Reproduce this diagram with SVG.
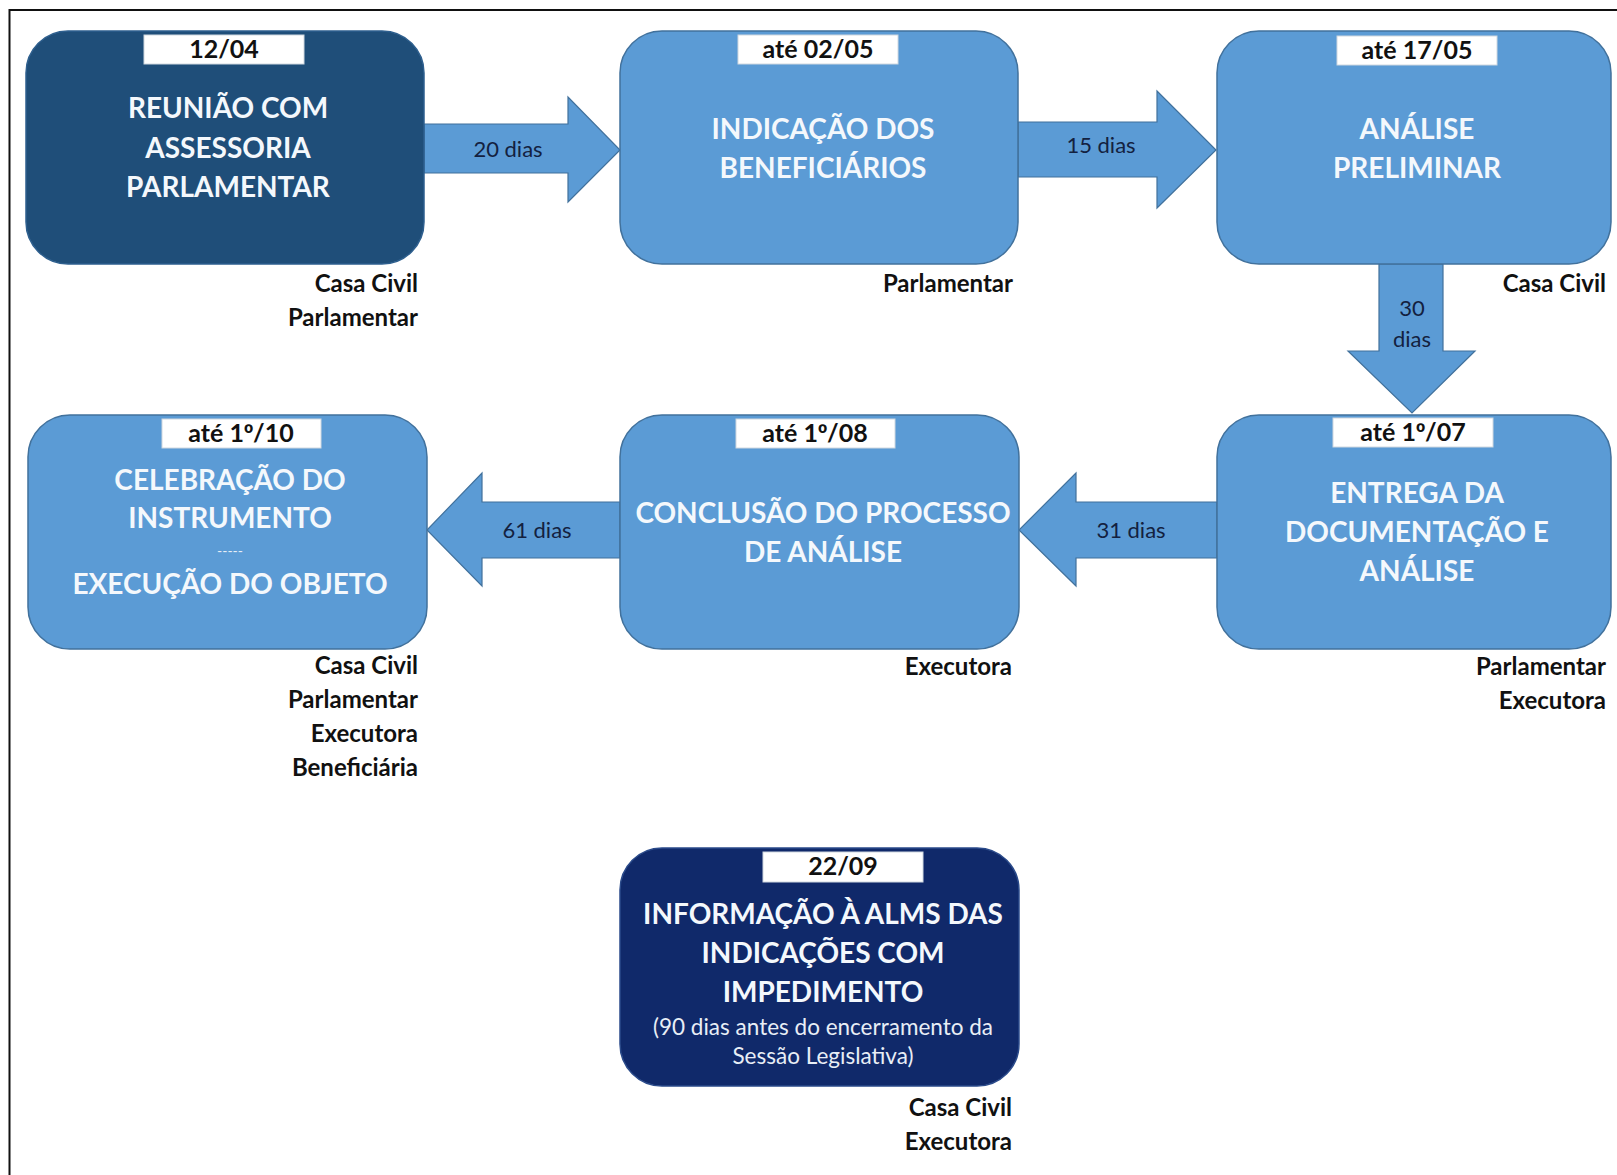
<svg xmlns="http://www.w3.org/2000/svg" width="1617" height="1175" viewBox="0 0 1617 1175">
<style>
.node{fill:#5b9bd5;stroke:#41719c;stroke-width:1.5}
.dark{fill:#1f4e79;stroke:#2e5f8e;stroke-width:1.5}
.navy{fill:#10296a;stroke:#2a4a8a;stroke-width:1.5}
.date{fill:#ffffff;stroke:#d0d8e0;stroke-width:1}
.arrow{fill:#5b9bd5;stroke:#41719c;stroke-width:1.2}
.title{font-family:Lato,"Liberation Sans",sans-serif;font-weight:bold;font-size:28px;fill:#f4f8fc;text-anchor:middle}
.sub{font-family:Lato,"Liberation Sans",sans-serif;font-size:22.5px;fill:#e8eef6;text-anchor:middle}
.dtxt{font-family:Lato,"Liberation Sans",sans-serif;font-weight:bold;font-size:25px;fill:#111;text-anchor:middle}
.ord{font-family:"Liberation Sans",sans-serif}
.resp{font-family:Lato,"Liberation Sans",sans-serif;font-weight:bold;font-size:24px;fill:#111;text-anchor:end}
.alab{font-family:Lato,"Liberation Sans",sans-serif;font-size:22px;fill:#13213f;text-anchor:middle}
</style>
<rect x="0" y="0" width="1617" height="1175" fill="#ffffff"/>
<rect x="9.5" y="10" width="1640" height="1200" fill="none" stroke="#111" stroke-width="2"/>

<g id="connectors">
  <path class="arrow" d="M424,124 H568 V97 L620,150 L568,202 V173 H424 Z"/>
  <text class="alab" x="508" y="157">20 dias</text>
  <path class="arrow" d="M1018,122 H1157 V91 L1216,150 L1157,208 V177 H1018 Z"/>
  <text class="alab" x="1101" y="153">15 dias</text>
  <path class="arrow" d="M1379,264 H1443 V351 H1475 L1412,413 L1348,351 H1379 Z"/>
  <text class="alab" x="1412" y="316">30</text>
  <text class="alab" x="1412" y="347">dias</text>
  <path class="arrow" d="M1217,502 H1076 V473 L1019,530 L1076,586 V558 H1217 Z"/>
  <text class="alab" x="1131" y="538">31 dias</text>
  <path class="arrow" d="M620,502 H482 V473 L427,530 L482,586 V558 H620 Z"/>
  <text class="alab" x="537" y="538">61 dias</text>
</g>

<g id="node-reuniao">
  <rect class="dark" x="26" y="31" width="398" height="233" rx="42"/>
  <rect class="date" x="144" y="35" width="160" height="29"/>
  <text class="dtxt" x="224" y="58">12/04</text>
  <text class="title" x="228" y="118">REUNIÃO COM</text>
  <text class="title" x="228" y="158">ASSESSORIA</text>
  <text class="title" x="228" y="197">PARLAMENTAR</text>
  <text class="resp" x="418" y="292">Casa Civil</text>
  <text class="resp" x="418" y="326">Parlamentar</text>
</g>

<g id="node-indicacao">
  <rect class="node" x="620" y="31" width="398" height="233" rx="42"/>
  <rect class="date" x="738" y="35" width="160" height="29"/>
  <text class="dtxt" x="818" y="58">até 02/05</text>
  <text class="title" x="823" y="139">INDICAÇÃO DOS</text>
  <text class="title" x="823" y="178">BENEFICIÁRIOS</text>
  <text class="resp" x="1013" y="292">Parlamentar</text>
</g>

<g id="node-analise-preliminar">
  <rect class="node" x="1217" y="31" width="394" height="233" rx="42"/>
  <rect class="date" x="1337" y="36" width="160" height="29"/>
  <text class="dtxt" x="1417" y="59">até 17/05</text>
  <text class="title" x="1417" y="139">ANÁLISE</text>
  <text class="title" x="1417" y="178">PRELIMINAR</text>
  <text class="resp" x="1606" y="292">Casa Civil</text>
</g>

<g id="node-entrega">
  <rect class="node" x="1217" y="415" width="394" height="234" rx="42"/>
  <rect class="date" x="1333" y="418" width="160" height="29"/>
  <text class="dtxt" x="1413" y="441">até 1<tspan class="ord">º</tspan>/07</text>
  <text class="title" x="1417" y="503">ENTREGA DA</text>
  <text class="title" x="1417" y="542">DOCUMENTAÇÃO E</text>
  <text class="title" x="1417" y="581">ANÁLISE</text>
  <text class="resp" x="1606" y="675">Parlamentar</text>
  <text class="resp" x="1606" y="709">Executora</text>
</g>

<g id="node-conclusao">
  <rect class="node" x="620" y="415" width="399" height="234" rx="42"/>
  <rect class="date" x="736" y="419" width="159" height="29"/>
  <text class="dtxt" x="815" y="442">até 1<tspan class="ord">º</tspan>/08</text>
  <text class="title" x="823" y="523">CONCLUSÃO DO PROCESSO</text>
  <text class="title" x="823" y="562">DE ANÁLISE</text>
  <text class="resp" x="1012" y="675">Executora</text>
</g>

<g id="node-celebracao">
  <rect class="node" x="28" y="415" width="399" height="234" rx="42"/>
  <rect class="date" x="162" y="419" width="159" height="29"/>
  <text class="dtxt" x="241" y="442">até 1<tspan class="ord">º</tspan>/10</text>
  <text class="title" x="230" y="490">CELEBRAÇÃO DO</text>
  <text class="title" x="230" y="528">INSTRUMENTO</text>
  <text class="sub" x="230" y="556" style="font-size:14px">-----</text>
  <text class="title" x="230" y="594">EXECUÇÃO DO OBJETO</text>
  <text class="resp" x="418" y="674">Casa Civil</text>
  <text class="resp" x="418" y="708">Parlamentar</text>
  <text class="resp" x="418" y="742">Executora</text>
  <text class="resp" x="418" y="776">Beneficiária</text>
</g>

<g id="node-informacao">
  <rect class="navy" x="620" y="848" width="399" height="238" rx="42"/>
  <rect class="date" x="763" y="852" width="160" height="30"/>
  <text class="dtxt" x="843" y="875">22/09</text>
  <text class="title" x="823" y="924">INFORMAÇÃO À ALMS DAS</text>
  <text class="title" x="823" y="963">INDICAÇÕES COM</text>
  <text class="title" x="823" y="1002">IMPEDIMENTO</text>
  <text class="sub" x="823" y="1035">(90 dias antes do encerramento da</text>
  <text class="sub" x="823" y="1064">Sessão Legislativa)</text>
  <text class="resp" x="1012" y="1116">Casa Civil</text>
  <text class="resp" x="1012" y="1150">Executora</text>
</g>
</svg>
